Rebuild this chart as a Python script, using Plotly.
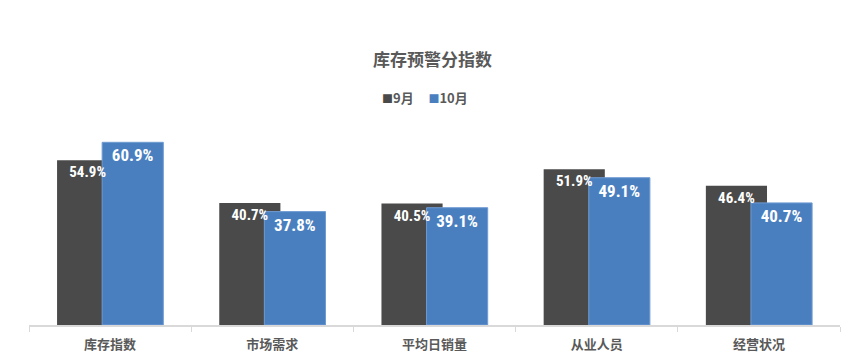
import plotly.graph_objects as go

categories = ["库存指数", "市场需求", "平均日销量", "从业人员", "经营状况"]
sep_values = [54.9, 40.7, 40.5, 51.9, 46.4]
oct_values = [60.9, 37.8, 39.1, 49.1, 40.7]
series_names = ["9月", "10月"]
series_colors = ["#4A4A4A", "#4A7FBF"]

CJK = "Noto Sans CJK SC"
LABEL_FONT = "Liberation Sans Narrow, Arial Narrow, Roboto Condensed, sans-serif"

W, OFF = 0.377, [-0.327, -0.049]

fig = go.Figure()
fig.add_trace(go.Bar(
    x=categories, y=sep_values, name=series_names[0],
    marker=dict(color=series_colors[0], line=dict(width=0)),
    width=W, offset=OFF[0], showlegend=False, hoverinfo="skip",
))
fig.add_trace(go.Bar(
    x=categories, y=oct_values, name=series_names[1],
    marker=dict(color=series_colors[1], line=dict(width=1, color="#6F9BD3")),
    width=W, offset=OFF[1], showlegend=False,
    text=[f"{v:.1f}%" for v in oct_values],
    textposition="inside", insidetextanchor="end", textangle=0,
    textfont=dict(family=LABEL_FONT, size=17, color="white", weight="bold"),
))
# transparent copy of the 9月 bars carrying the labels on top of the 10月 bars
fig.add_trace(go.Bar(
    x=categories, y=sep_values, name=series_names[0],
    marker=dict(color="rgba(0,0,0,0)", line=dict(width=0)),
    width=W, offset=OFF[0], showlegend=False,
    text=[f"{v:.1f}%" for v in sep_values],
    textposition="inside", insidetextanchor="end", textangle=0,
    textfont=dict(family=LABEL_FONT, size=15, color="white", weight="bold"),
))

legend_html = "&nbsp;&nbsp;&nbsp;&nbsp;&nbsp;".join(
    f"<span style='color:{c}; font-size:11px'>■</span>{n}"
    for n, c in zip(series_names, series_colors)
)
fig.add_annotation(
    text=legend_html, xref="paper", yref="paper", x=(425 - 29) / 811, y=1.0 + (115 - 97) / 210,
    xanchor="center", yanchor="middle", showarrow=False,
    font=dict(family=CJK, size=13, color="#595959", weight="bold"),
)

fig.update_layout(
    width=865, height=360,
    margin=dict(l=29, r=25, t=115, b=35, autoexpand=False),
    paper_bgcolor="white", plot_bgcolor="white",
    barmode="overlay",
    title=dict(text="库存预警分指数", x=0.5, xanchor="center", y=1 - 60 / 360, yanchor="middle",
               font=dict(family=CJK, size=17, color="#595959", weight="bold")),
    showlegend=False,
)
fig.update_xaxes(
    type="category", showline=True, linecolor="#D9D9D9", linewidth=2,
    ticks="outside", tickson="boundaries", ticklen=5, tickcolor="#D9D9D9", tickwidth=1,
    tickfont=dict(family=CJK, size=13, color="#595959", weight="bold"),
    ticklabelstandoff=6, automargin=False,
    showgrid=False,
)
fig.update_yaxes(range=[0, 70], visible=False, showgrid=False, zeroline=False, automargin=False)

fig.write_html("out.html", config={"displayModeBar": False},
               post_script="document.body.style.margin='0';")
